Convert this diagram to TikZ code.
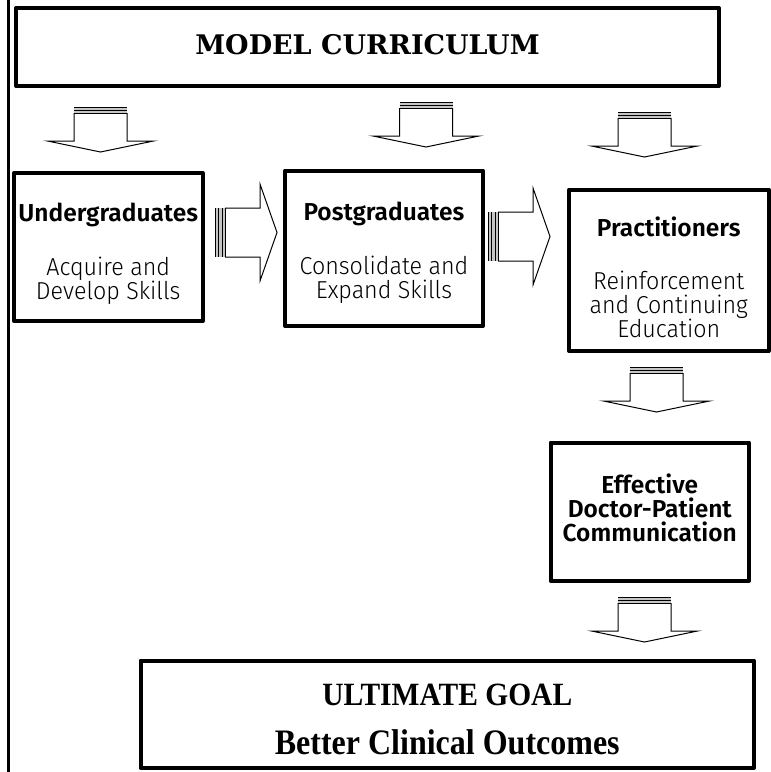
\documentclass[tikz,border=0pt]{standalone}
\usepackage{fontspec}
\setmainfont{Liberation Serif}
\newfontfamily\titlefont{DejaVu Serif}
\newfontfamily\lightsans{Fira Sans Light}[FakeStretch=0.95]
\newfontfamily\boldsans{Fira Sans SemiBold}
\usetikzlibrary{calc, positioning}

\tikzstyle{stage} = [rectangle, draw=black, line width=4pt, line join=round, inner sep=0pt]
\tikzstyle{title} = [font=\titlefont\bfseries\fontsize{27}{33}\selectfont]
\tikzstyle{head}  = [anchor=base, inner sep=0pt, font=\boldsans\fontsize{24.5}{24}\selectfont]
\tikzstyle{body}  = [anchor=base, inner sep=0pt, align=center, font=\lightsans\fontsize{24.5}{24}\selectfont]
\tikzstyle{goal}  = [anchor=base, inner sep=0pt, font=\bfseries\fontsize{30}{36}\selectfont]

% striped block arrows (origin at the striped end)
\tikzset{
  downarr/.pic={
    \draw[line width=1pt, fill=white] (-26.5,6) -- (-26.5,34) -- (-53,34) -- (0,45)
      -- (53,34) -- (26.5,34) -- (26.5,6);
    \fill[gray!45] (-26.5,0) rectangle (26.5,6);
    \draw[line width=1.4pt] (-26.5,0.7) -- (26.5,0.7);
    \draw[line width=1pt] (-26.5,3.4) -- (26.5,3.4);
    \draw[line width=1pt] (-26.5,6) -- (26.5,6);
  },
  rightarr/.pic={
    \draw[line width=1pt, fill=white] (10,-24.5) -- (45,-24.5) -- (45,-48.5) -- (62,0)
      -- (45,48.5) -- (45,24.5) -- (10,24.5);
    \fill[gray!45] (0,-24.5) rectangle (10,24.5);
    \draw[line width=1.4pt] (0.7,-24.5) -- (0.7,24.5);
    \draw[line width=1pt] (3.6,-24.5) -- (3.6,24.5);
    \draw[line width=1pt] (7,-24.5) -- (7,24.5);
    \draw[line width=1pt] (10,-24.5) -- (10,24.5);
  }
}

\begin{document}
\begin{tikzpicture}[x=1pt, y=-1pt]
    \useasboundingbox (0,0) rectangle (771,772);

    \node (cur)  [stage, title, minimum width=703, minimum height=78, text depth=6pt] at (367.5,47) {MODEL CURRICULUM};
    \node (ug)   [stage, minimum width=188.5, minimum height=148]   at (108.25,247) {};
    \node (pg)   [stage, minimum width=198, minimum height=155.5]   at (384,248.25) {};
    \node (pr)   [stage, minimum width=199.5, minimum height=161.5] at (668.75,270.25) {};
    \node (eff)  [stage, minimum width=198.5, minimum height=138]   at (649.75,511.5) {};
    \node (goal) [stage, minimum width=613.5, minimum height=107.5] at (447.25,714.25) {};

    % text: base anchor sits on the last line
    \node (ugH) [head] at ($(ug.north)+(0,50)$) {Undergraduates};
    \node (ugB) [body] at ($(ug.north)+(0,128)$) {Acquire and\\Develop Skills};
    \node (pgH) [head] at ($(pg.north)+(0,51.5)$) {Postgraduates};
    \node (pgB) [body] at ($(pg.north)+(0,130)$) {Consolidate and\\Expand Skills};
    \node (prH) [head] at ($(pr.north)+(0,48.5)$) {Practitioners};
    \node (prB) [body] at ($(pr.north)+(0,149.5)$) {Reinforcement\\and Continuing\\Education};
    \node (effT) [head, align=center] at ($(eff.north)+(0,100.5)$) {Effective\\Doctor-Patient\\Communication};
    \node (goalH) [goal, font=\bfseries\fontsize{29.5}{36}\selectfont] at ($(goal.north)+(0,46.5)$) {\scalebox{1}[1.1]{ULTIMATE GOAL}};
    \node (goalB) [goal, font=\bfseries\fontsize{32}{36}\selectfont] at ($(goal.north)+(0,95.5)$) {\scalebox{1}[1.12]{Better Clinical Outcomes}};

    \draw[line width=2.5pt] (8.5,0) -- (8.5,772);

    \pic at (100.5,107) {downarr};
    \pic at (426,102)   {downarr};
    \pic at (644.5,112) {downarr};
    \pic at (215,232.5) {rightarr};
    \pic at (488,236.5) {rightarr};
    \pic at (656.5,367) {downarr};
    \pic at (644.5,597) {downarr};
\end{tikzpicture}
\end{document}
